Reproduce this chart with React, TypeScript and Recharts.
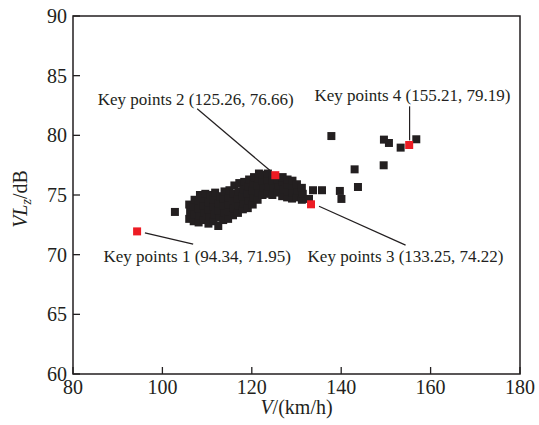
import React from "react";
import {
  ScatterChart,
  Scatter,
  XAxis,
  YAxis,
  ZAxis,
  ReferenceArea,
  ReferenceLine,
  ReferenceDot,
  Label,
} from "recharts";

// ---- data ----
const xTicks = [80, 100, 120, 140, 160, 180];
const yTicks = [60, 65, 70, 75, 80, 85, 90];

// measured (speed, level) points
const measuredPoints: [number, number][] = [
  [102.8, 73.58],
  [106.0, 73.0], [106.2, 73.6], [106.0, 74.2],
  [107.0, 72.8], [107.1, 73.4], [107.0, 74.0], [107.2, 74.6],
  [108.1, 72.7], [108.3, 73.3], [108.1, 73.9], [108.0, 74.5], [108.4, 75.0],
  [109.2, 72.9], [109.4, 73.5], [109.2, 74.1], [109.3, 74.7], [109.6, 75.1],
  [110.3, 72.6], [110.5, 73.2], [110.3, 73.8], [110.4, 74.4], [110.7, 75.0],
  [111.4, 72.8], [111.6, 73.4], [111.4, 74.0], [111.5, 74.6], [111.8, 75.2],
  [112.5, 72.4], [112.7, 73.1], [112.5, 73.7], [112.6, 74.3], [112.9, 74.9],
  [113.6, 72.9], [113.8, 73.5], [113.6, 74.1], [113.7, 74.7], [113.9, 75.3],
  [114.7, 73.0], [114.9, 73.6], [114.7, 74.2], [114.8, 74.8], [115.0, 75.4],
  [115.8, 73.3], [116.0, 73.9], [115.8, 74.5], [115.9, 75.1], [116.1, 75.8],
  [116.9, 73.5], [117.1, 74.1], [116.9, 74.7], [117.0, 75.3], [117.2, 76.0],
  [118.0, 73.8], [118.2, 74.3], [118.0, 74.9], [118.1, 75.5], [118.3, 76.1],
  [119.1, 73.9], [119.3, 74.5], [119.1, 75.1], [119.2, 75.7], [119.4, 76.3],
  [120.2, 74.2], [120.4, 74.8], [120.2, 75.4], [120.3, 76.0], [120.5, 76.5],
  [121.3, 74.6], [121.5, 75.2], [121.3, 75.8], [121.4, 76.4], [121.6, 76.8],
  [122.4, 75.0], [122.6, 75.6], [122.4, 76.2], [122.5, 76.7],
  [123.5, 75.1], [123.7, 75.7], [123.5, 76.3], [123.6, 76.8],
  [124.6, 75.0], [124.8, 75.6], [124.6, 76.2], [124.7, 76.6],
  [125.7, 75.2], [125.9, 75.8], [125.7, 76.3],
  [126.8, 74.9], [127.0, 75.5], [126.8, 76.1], [126.9, 76.5],
  [127.9, 74.8], [128.1, 75.3], [127.9, 75.9], [128.0, 76.3],
  [129.0, 74.7], [129.2, 75.2], [129.0, 75.8], [129.1, 76.2],
  [130.1, 74.8], [130.3, 75.4], [130.1, 75.9],
  [131.2, 74.6], [131.4, 75.1], [131.2, 75.6],
  [132.8, 74.67], [133.7, 75.4], [135.7, 75.4], [139.7, 75.34], [140.05, 74.67],
  [143.0, 77.15], [143.75, 75.67], [149.5, 77.49], [137.8, 79.94],
  [149.56, 79.64], [150.68, 79.36], [153.3, 78.97], [156.8, 79.67],
];

const keyPointNames = ["Key points 1", "Key points 2", "Key points 3", "Key points 4"];
const keyPointX = [94.34, 125.26, 133.25, 155.21];
const keyPointY = [71.95, 76.66, 74.22, 79.19];

// annotation placement (text anchor, leader-line start & end), in data units
const labelAnchors = [
  { tx: 107.8, ty: 69.87, lx1: 96.09, ly1: 71.82, lx2: 106.88, ly2: 70.88 },
  { tx: 107.44, ty: 83.07, lx1: 107.78, ly1: 82.23, lx2: 124.02, ly2: 77.07 },
  { tx: 154.4, ty: 69.87, lx1: 135.04, ly1: 74.06, lx2: 154.4, ly2: 70.8 },
  { tx: 155.93, ty: 83.35, lx1: 155.3, ly1: 82.43, lx2: 155.3, ly2: 79.58 },
];

const blackData = measuredPoints.map(([x, y]) => ({ x, y }));
const redData = keyPointX.map((x, i) => ({ x, y: keyPointY[i] }));

const INK = "#231f20";
const RED = "#ed1c24";
const FONT = "'Times New Roman', 'Liberation Serif', serif";

const XTick = (props: any) => {
  const { x, y, payload } = props;
  return (
    <g>
      <line x1={x} x2={x} y1={y} y2={y - 7} stroke={INK} strokeWidth={1.3} />
      <text x={x} y={y + 20} textAnchor="middle" fontSize={20} fontFamily={FONT} fill={INK}>
        {payload.value}
      </text>
    </g>
  );
};

const YTick = (props: any) => {
  const { x, y, payload } = props;
  return (
    <g>
      <line x1={x} x2={x + 7} y1={y} y2={y} stroke={INK} strokeWidth={1.3} />
      <text x={x - 6} y={y + 7} textAnchor="end" fontSize={20} fontFamily={FONT} fill={INK}>
        {payload.value}
      </text>
    </g>
  );
};

const XLabel = (props: any) => {
  const vb = props.viewBox;
  const cx = vb.x + vb.width / 2;
  const cy = vb.y + 40;
  return (
    <text x={cx} y={cy} textAnchor="middle" fontSize={20} fontFamily={FONT} fill={INK}>
      <tspan fontStyle="italic">V</tspan>
      <tspan>/(km/h)</tspan>
    </text>
  );
};

const YLabel = (props: any) => {
  const vb = props.viewBox;
  const cx = vb.x + 27;
  const cy = vb.y + vb.height / 2 + 4;
  return (
    <text
      x={cx}
      y={cy}
      transform={`rotate(-90, ${cx}, ${cy})`}
      textAnchor="middle"
      fontSize={20}
      fontFamily={FONT}
      fill={INK}
    >
      <tspan fontStyle="italic">VL</tspan>
      <tspan fontStyle="italic" fontSize={14} dy={4}>z</tspan>
      <tspan dy={-4}>/dB</tspan>
    </text>
  );
};

export default function App() {
  return (
    <div style={{ position: "absolute", left: 0, top: 0, background: "#fff" }}>
      <ScatterChart
        width={539}
        height={425}
        margin={{ top: 16, right: 19, bottom: 0, left: 0 }}
      >
        <XAxis
          type="number"
          dataKey="x"
          domain={[80, 180]}
          ticks={xTicks}
          axisLine={false}
          tickLine={false}
          tickSize={0}
          tickMargin={0}
          tick={<XTick />}
          height={51}
          interval={0}
        >
          <Label content={<XLabel />} />
        </XAxis>
        <YAxis
          type="number"
          dataKey="y"
          domain={[60, 90]}
          ticks={yTicks}
          axisLine={false}
          tickLine={false}
          tickSize={0}
          tickMargin={0}
          tick={<YTick />}
          width={73}
          interval={0}
        >
          <Label content={<YLabel />} />
        </YAxis>
        <ZAxis range={[56, 56]} />
        <ReferenceArea
          x1={80}
          x2={180}
          y1={60}
          y2={90}
          fill="none"
          stroke={INK}
          strokeWidth={1.5}
          fillOpacity={0}
        />
        {labelAnchors.map((a, i) => (
          <ReferenceLine
            key={`l${i}`}
            segment={[
              { x: a.lx1, y: a.ly1 },
              { x: a.lx2, y: a.ly2 },
            ]}
            stroke={INK}
            strokeWidth={1.2}
          />
        ))}
        <Scatter data={blackData} fill={INK} shape="square" isAnimationActive={false} />
        <Scatter data={redData} fill={RED} shape="square" isAnimationActive={false} />
        {labelAnchors.map((a, i) => (
          <ReferenceDot
            key={`t${i}`}
            x={a.tx}
            y={a.ty}
            r={0}
            fill="none"
            stroke="none"
            label={{
              value: `${keyPointNames[i]} (${keyPointX[i]}, ${keyPointY[i]})`,
              position: "center",
              fill: INK,
              fontSize: 17,
              fontFamily: FONT,
            }}
          />
        ))}
      </ScatterChart>
    </div>
  );
}
